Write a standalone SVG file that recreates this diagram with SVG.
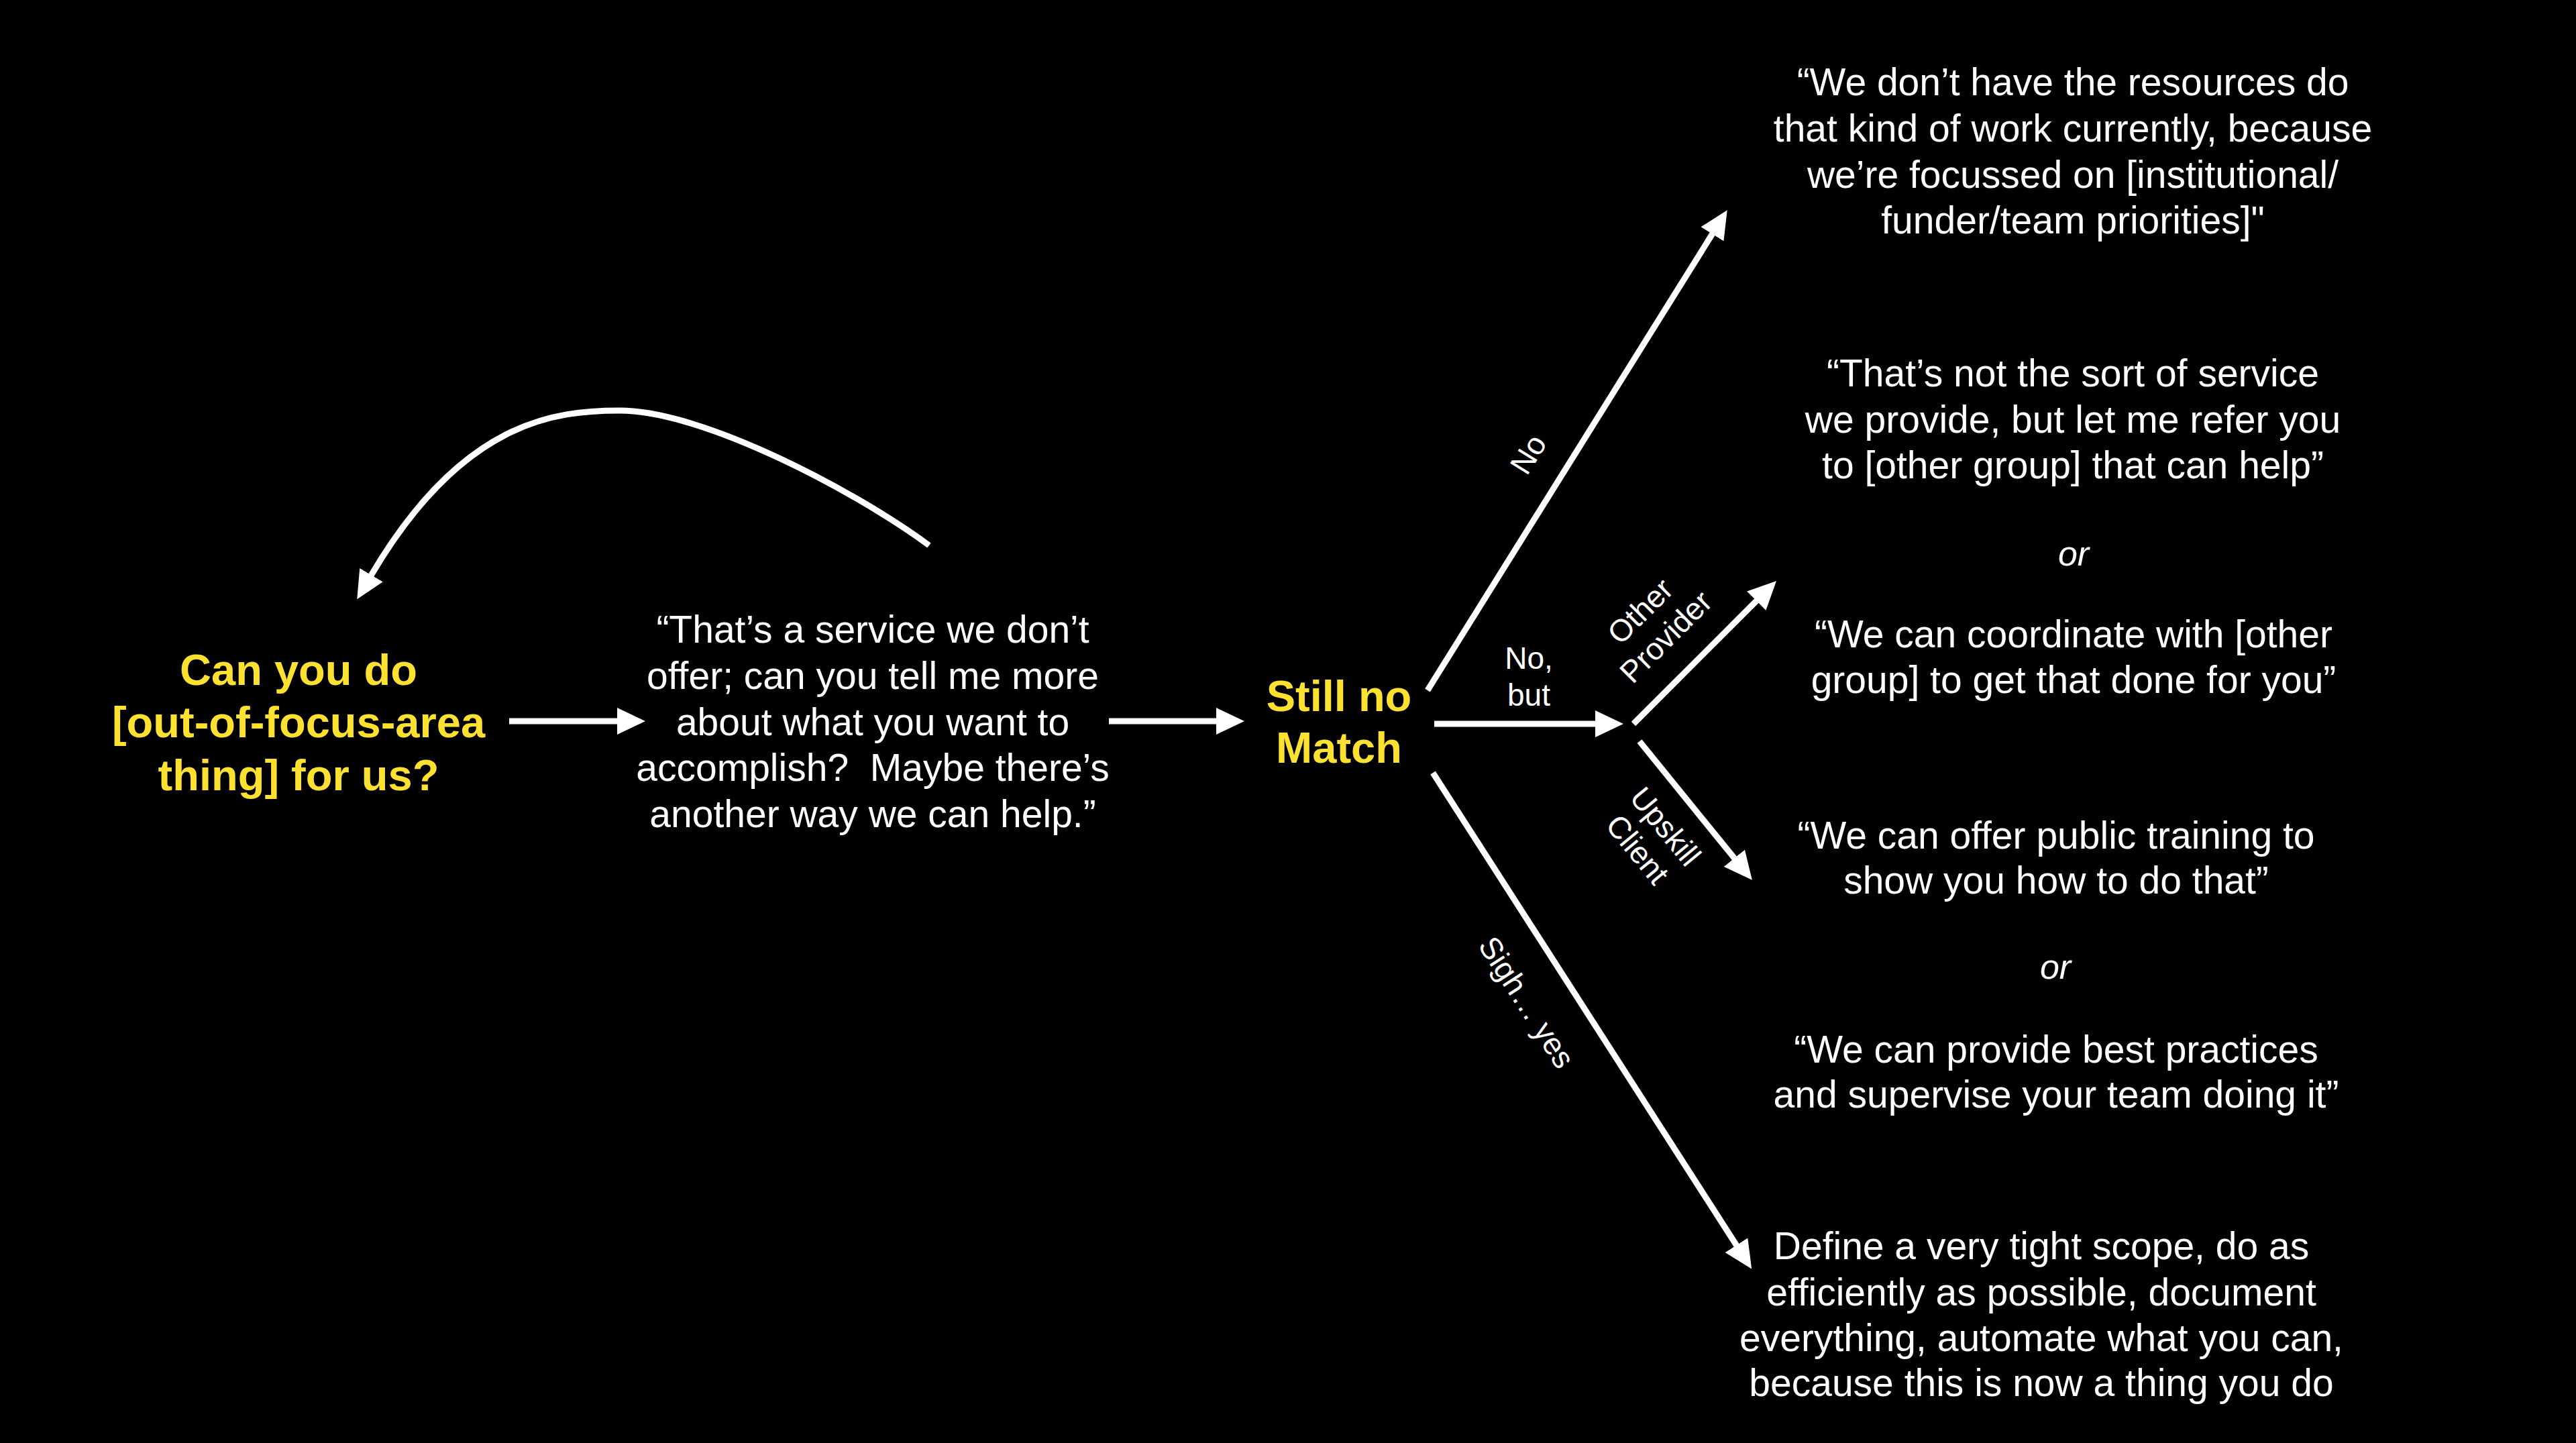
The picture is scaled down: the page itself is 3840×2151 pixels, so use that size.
<svg xmlns="http://www.w3.org/2000/svg" width="3840" height="2151" viewBox="0 0 3840 2151">
<defs>
<style>
.t{font-family:"Liberation Sans",Arial,Helvetica,sans-serif;fill:#ffffff;font-size:57px;text-anchor:middle}
.y{font-family:"Liberation Sans",Arial,Helvetica,sans-serif;fill:#FCE130;font-size:65px;font-weight:bold;text-anchor:middle}
.l{font-family:"Liberation Sans",Arial,Helvetica,sans-serif;fill:#ffffff;font-size:46px;text-anchor:middle}
.or{font-family:"Liberation Sans",Arial,Helvetica,sans-serif;fill:#ffffff;font-size:52px;font-style:italic;text-anchor:middle}
.c{stroke:#ffffff;stroke-width:9;fill:none;marker-end:url(#ah)}
</style>
<marker id="ah" markerUnits="userSpaceOnUse" markerWidth="42" markerHeight="40" refX="1" refY="20" orient="auto" viewBox="0 0 42 40">
<path d="M0,0 L42,20 L0,40 z" fill="#ffffff"/>
</marker>
</defs>
<rect x="0" y="0" width="3840" height="2151" fill="#000000"/>

<g id="connectors">
<path id="loop-back" class="c" d="M1385,813 C1280,735 1050,612 924,612 C830,612 690,625 553,858"/>
<line id="q-to-reply" class="c" x1="759" y1="1075" x2="921" y2="1075"/>
<line id="reply-to-still" class="c" x1="1653" y1="1075" x2="1814" y2="1075"/>
<line id="e-no" class="c" x1="2128" y1="1029" x2="2553" y2="348"/>
<line id="e-nobut" class="c" x1="2138" y1="1079" x2="2379" y2="1079"/>
<line id="e-other" class="c" x1="2435" y1="1079" x2="2619" y2="895"/>
<line id="e-upskill" class="c" x1="2444" y1="1105" x2="2586" y2="1280"/>
<line id="e-sigh" class="c" x1="2136" y1="1152" x2="2589" y2="1857"/>
</g>

<g id="edge-labels">
<text class="l" transform="translate(2278,677) rotate(-58)" x="0" y="16">No</text>
<text class="l" x="2279" y="997">No,</text>
<text class="l" x="2279" y="1052">but</text>
<g transform="translate(2464,930) rotate(-45)">
<text class="l" x="0" y="-11">Other</text>
<text class="l" x="0" y="43">Provider</text>
</g>
<g transform="translate(2462,1249) rotate(50.6)">
<text class="l" x="0" y="-11">Upskill</text>
<text class="l" x="0" y="43">Client</text>
</g>
<text class="l" transform="translate(2276,1494) rotate(57.2)" x="0" y="16">Sigh… yes</text>
</g>

<g id="n-question">
<text class="y" x="445" y="1021">Can you do</text>
<text class="y" x="445" y="1099">[out-of-focus-area</text>
<text class="y" x="445" y="1178">thing] for us?</text>
</g>

<g id="n-reply">
<text class="t" x="1301" y="958">“That’s a service we don’t</text>
<text class="t" x="1301" y="1027">offer; can you tell me more</text>
<text class="t" x="1301" y="1096">about what you want to</text>
<text class="t" x="1301" y="1164">accomplish?&#160; Maybe there’s</text>
<text class="t" x="1301" y="1233">another way we can help.”</text>
</g>

<g id="n-still">
<text class="y" x="1996" y="1060">Still no</text>
<text class="y" x="1996" y="1137">Match</text>
</g>

<g id="n-no">
<text class="t" x="3090" y="142">“We don’t have the resources do</text>
<text class="t" x="3090" y="211">that kind of work currently, because</text>
<text class="t" x="3090" y="280">we’re focussed on [institutional/</text>
<text class="t" x="3090" y="348">funder/team priorities]"</text>
</g>

<g id="n-refer">
<text class="t" x="3090" y="576">“That’s not the sort of service</text>
<text class="t" x="3090" y="645">we provide, but let me refer you</text>
<text class="t" x="3090" y="713">to [other group] that can help”</text>
</g>

<g id="n-or1">
<text class="or" x="3091" y="843">or</text>
</g>

<g id="n-coordinate">
<text class="t" x="3091" y="965">“We can coordinate with [other</text>
<text class="t" x="3091" y="1033">group] to get that done for you”</text>
</g>

<g id="n-training">
<text class="t" x="3065" y="1265">“We can offer public training to</text>
<text class="t" x="3065" y="1332">show you how to do that”</text>
</g>

<g id="n-or2">
<text class="or" x="3064" y="1459">or</text>
</g>

<g id="n-supervise">
<text class="t" x="3065" y="1584">“We can provide best practices</text>
<text class="t" x="3065" y="1651">and supervise your team doing it”</text>
</g>

<g id="n-yes">
<text class="t" x="3043" y="1877">Define a very tight scope, do as</text>
<text class="t" x="3043" y="1946">efficiently as possible, document</text>
<text class="t" x="3043" y="2014">everything, automate what you can,</text>
<text class="t" x="3043" y="2081">because this is now a thing you do</text>
</g>
</svg>
